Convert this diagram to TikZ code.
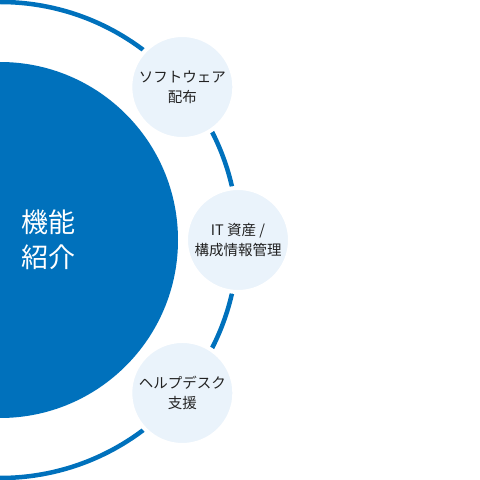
\documentclass[tikz,border=0pt]{standalone}
\usepackage{fontspec}
\setmainfont{Noto Sans CJK JP}
\usepackage{xcolor}
\usepackage{tikz}
\definecolor{fnblue}{HTML}{0071BC}
\definecolor{fnpale}{HTML}{EAF3FB}
\definecolor{fntext}{HTML}{222222}

\begin{document}
\begin{tikzpicture}[x=1pt, y=1pt,
  hubDisc/.style={circle, fill=fnblue, inner sep=0pt, minimum size=356pt},
  hubText/.style={align=center, text=white, font=\fontsize{27}{35}\selectfont},
  orbit/.style={draw=fnblue, line width=4.5pt},
  satDisc/.style={circle, fill=fnpale, draw=white, line width=4pt, inner sep=0pt,
    minimum size=104pt, align=center, text=fntext, font=\fontsize{14.5}{20}\selectfont},
]
\def\orbitR{238}
\useasboundingbox (0,0) rectangle (480,480);
\clip (0,0) rectangle (480,480);
\node[hubDisc] (hub) at (0,240) {};
\draw[orbit] (hub.center) circle[radius=\orbitR];
\node[hubText] (hubLabel) at (48,240) {機能\\紹介};
\foreach \ang/\nm/\txt in {%
  40/dist/{ソフトウェア\\配布},
  0/asset/{IT 資産 /\\構成情報管理},
  -40/desk/{ヘルプデスク\\支援}%
} {
  \node[satDisc] (\nm) at ([shift={(\ang:\orbitR)}]hub.center) {\txt};
}
\end{tikzpicture}
\end{document}
